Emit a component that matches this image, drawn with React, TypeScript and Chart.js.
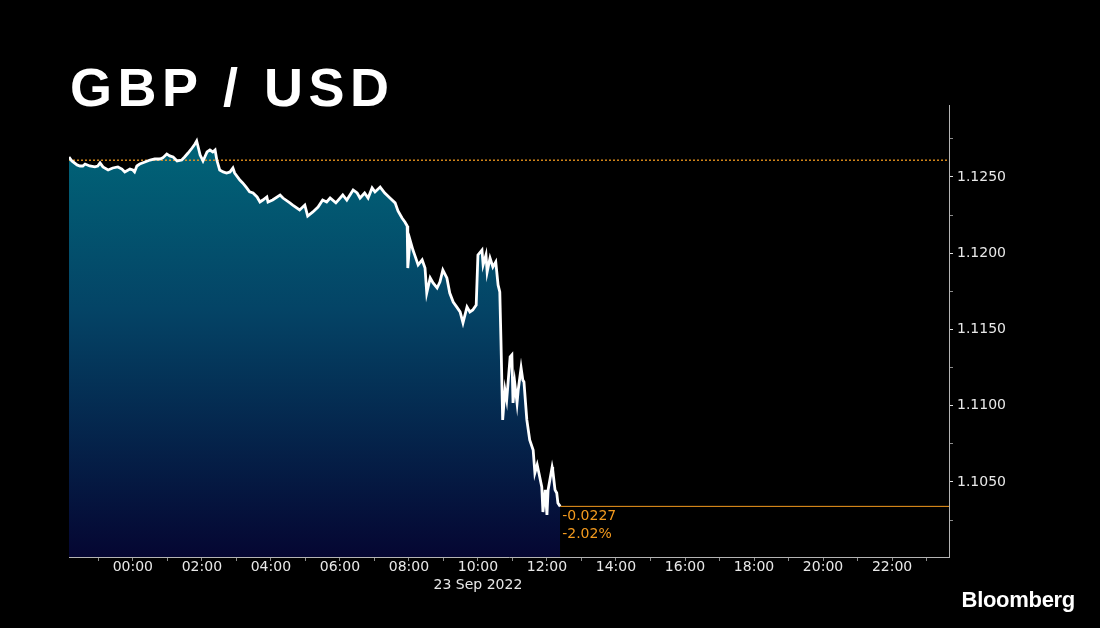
import React, { useEffect, useRef } from 'react';
import { Chart, registerables } from 'chart.js';

Chart.register(...registerables);

// minutes relative to 00:00, 23 Sep 2022 (negative = previous evening)
const times = [
  -111, -106, -97, -92, -87, -83, -75, -66, -61, -57, -52, -43, -35, -26, -19, -14, -5, 0, 3, 7,
  12, 21, 30, 38, 47, 52, 59, 64, 70, 77, 85, 90, 96, 103, 108, 111, 117, 122, 129, 134,
  139, 143, 146, 151, 157, 163, 169, 174, 177, 186, 191, 198, 203, 209, 216, 221, 226, 233, 235, 243,
  256, 261, 273, 278, 290, 299, 304, 313, 322, 330, 337, 343, 353, 365, 372, 383, 390, 395, 403, 409,
  416, 421, 430, 438, 447, 456, 461, 468, 473, 477, 478, 482, 487, 490, 496, 503, 508, 511, 517, 522,
  529, 534, 539, 546, 551, 557, 563, 569, 574, 581, 586, 591, 597, 600, 607, 609, 614, 616, 621, 626,
  631, 635, 638, 640, 643, 647, 650, 656, 659, 661, 664, 668, 670, 675, 678, 680, 685, 690, 696, 699,
  703, 706, 711, 713, 717, 720, 722, 729, 730, 734, 737, 739, 743,
];

const prices = [
  1.12631, 1.12605, 1.12579, 1.12572, 1.12572, 1.12585, 1.12572, 1.12566, 1.12572, 1.12592,
  1.12566, 1.12546, 1.12559, 1.12566, 1.12552, 1.12533, 1.12552, 1.12546, 1.12533, 1.12572,
  1.12585, 1.12598, 1.12611, 1.12618, 1.12618, 1.12625, 1.12651, 1.12638, 1.12631, 1.12605,
  1.12611, 1.12631, 1.12657, 1.12690, 1.12716, 1.12736, 1.12644, 1.12605, 1.12664, 1.12677,
  1.12664, 1.12677, 1.12611, 1.12546, 1.12533, 1.12526, 1.12533, 1.12559, 1.12526, 1.12480,
  1.12461, 1.12428, 1.12402, 1.12395, 1.12369, 1.12336, 1.12349, 1.12369, 1.12336, 1.12349,
  1.12382, 1.12362, 1.12330, 1.12316, 1.12284, 1.12316, 1.12244, 1.12271, 1.12303, 1.12349,
  1.12336, 1.12362, 1.12330, 1.12382, 1.12349, 1.12415, 1.12395, 1.12362, 1.12395, 1.12362,
  1.12428, 1.12402, 1.12434, 1.12395, 1.12362, 1.12330, 1.12277, 1.12231, 1.12205, 1.12179,
  1.11903, 1.12087, 1.12021, 1.11989, 1.11923, 1.11956, 1.11903, 1.11739, 1.11838, 1.11805,
  1.11772, 1.11812, 1.11890, 1.11838, 1.11739, 1.11680, 1.11648, 1.11615, 1.11543, 1.11648,
  1.11615, 1.11628, 1.11661, 1.11989, 1.12021, 1.11923, 1.11989, 1.11877, 1.11969, 1.11910,
  1.11943, 1.11792, 1.11746, 1.11431, 1.10907, 1.11103, 1.11038, 1.11320, 1.11333, 1.11018,
  1.11149, 1.11018, 1.11103, 1.11248, 1.11169, 1.11156, 1.10907, 1.10776, 1.10710, 1.10559,
  1.10612, 1.10559, 1.10467, 1.10303, 1.10448, 1.10284, 1.10448, 1.10598, 1.10579, 1.10448,
  1.10428, 1.10362, 1.10340,
];

const prevClose = 1.1261;

const xMin = -111;
const xMax = 1419;
const yMin = 1.10008;
const yMax = 1.12972;

const xTickMinutes = [
  -60, 0, 60, 120, 180, 240, 300, 360, 420, 480, 540, 600, 660, 720, 780, 840, 900, 960, 1020,
  1080, 1140, 1200, 1260, 1320, 1380,
];
const xTickLabels = [
  '', '00:00', '', '02:00', '', '04:00', '', '06:00', '', '08:00', '', '10:00', '', '12:00', '',
  '14:00', '', '16:00', '', '18:00', '', '20:00', '', '22:00', '',
];
const dateTick = 600;
const dateLabel = '23 Sep 2022';

const yTickValues = [1.1025, 1.105, 1.1075, 1.11, 1.1125, 1.115, 1.1175, 1.12, 1.1225, 1.125, 1.1275];

const titleText = 'GBP / USD';
const brandText = 'Bloomberg';

const ORANGE = '#f39a1e';
const LABEL = '#e8e8e8';
const AXIS = '#b4b4b4';
const FONT = 'DejaVu Sans';

const isMajorY = (v: number) => Math.abs(v * 200 - Math.round(v * 200)) < 1e-6;

export default function App() {
  const canvasRef = useRef<HTMLCanvasElement | null>(null);

  useEffect(() => {
    const canvas = canvasRef.current;
    if (!canvas) return;
    const lastT = times[times.length - 1];
    const lastP = prices[prices.length - 1];
    const change = lastP - prevClose;
    const pct = (change / prevClose) * 100;

    const endLabels = {
      id: 'endLabels',
      afterDatasetsDraw(chart: any) {
        const { ctx, scales } = chart;
        const x = scales.x.getPixelForValue(lastT) + 2;
        const y = scales.y.getPixelForValue(lastP);
        ctx.save();
        ctx.fillStyle = ORANGE;
        ctx.font = `14px "${FONT}"`;
        ctx.textAlign = 'left';
        ctx.textBaseline = 'middle';
        ctx.fillText((change < 0 ? '-' : '+') + Math.abs(change).toFixed(4), x, y + 10);
        ctx.fillText((pct < 0 ? '-' : '+') + Math.abs(pct).toFixed(2) + '%', x, y + 28);
        ctx.restore();
      },
    };

    const chart = new Chart(canvas, {
      type: 'line',
      data: {
        datasets: [
          {
            data: times.map((t, i) => ({ x: t, y: prices[i] })),
            borderColor: '#ffffff',
            borderWidth: 2.8,
            pointRadius: 0,
            tension: 0,
            fill: 'start',
            backgroundColor: (c: any) => {
              const area = c.chart.chartArea;
              if (!area) return '#04405f';
              const g = c.chart.ctx.createLinearGradient(0, area.top, 0, area.bottom);
              g.addColorStop(0, '#006b7c');
              g.addColorStop(0.45, '#044466');
              g.addColorStop(1, '#050632');
              return g;
            },
          },
          {
            data: [
              { x: xMin, y: prevClose },
              { x: xMax, y: prevClose },
            ],
            borderColor: ORANGE,
            borderWidth: 1.3,
            borderDash: [2, 2],
            pointRadius: 0,
            fill: false,
          },
          {
            data: [
              { x: lastT, y: lastP },
              { x: xMax, y: lastP },
            ],
            borderColor: ORANGE,
            borderWidth: 1,
            pointRadius: 0,
            fill: false,
          },
        ],
      },
      options: {
        animation: false,
        responsive: false,
        devicePixelRatio: 1,
        layout: { padding: { left: 69, top: 105, right: 0, bottom: 0 } },
        plugins: {
          legend: { display: false },
          tooltip: { enabled: false },
          filler: { drawTime: 'beforeDatasetsDraw' },
        },
        scales: {
          x: {
            type: 'linear',
            min: xMin,
            max: xMax,
            afterBuildTicks: (s: any) => {
              s.ticks = xTickMinutes.map((v) => ({ value: v }));
            },
            afterFit: (s: any) => {
              s.height = 71;
            },
            grid: { drawOnChartArea: false, drawTicks: true, tickLength: 4, color: '#8c8c8c' },
            border: { display: true, color: AXIS, width: 1 },
            ticks: {
              autoSkip: false,
              maxRotation: 0,
              minRotation: 0,
              padding: -3,
              color: LABEL,
              font: { family: FONT, size: 14, lineHeight: 1.3 },
              callback: (v: any) => {
                const i = xTickMinutes.indexOf(v);
                const lbl = i >= 0 ? xTickLabels[i] : '';
                return v === dateTick ? [lbl, dateLabel] : lbl;
              },
            },
          },
          y: {
            type: 'linear',
            position: 'right',
            min: yMin,
            max: yMax,
            afterBuildTicks: (s: any) => {
              s.ticks = yTickValues.map((v) => ({ value: v }));
            },
            afterFit: (s: any) => {
              s.width = 151;
            },
            grid: {
              drawOnChartArea: false,
              drawTicks: true,
              tickLength: 4,
              color: (c: any) => (c.tick && isMajorY(c.tick.value) ? '#e0e0e0' : '#8c8c8c'),
            },
            border: { display: true, color: AXIS, width: 1 },
            ticks: {
              padding: 4,
              color: LABEL,
              font: { family: FONT, size: 14 },
              callback: (v: any) => (isMajorY(v) ? Number(v).toFixed(4) : ''),
            },
          },
        },
      },
      plugins: [endLabels],
    } as any);

    return () => chart.destroy();
  }, []);

  return (
    <div
      style={{
        position: 'fixed',
        left: 0,
        top: 0,
        width: 1100,
        height: 628,
        background: '#000',
        overflow: 'hidden',
      }}
    >
      <canvas ref={canvasRef} width={1100} height={628} style={{ display: 'block', position: 'absolute', left: 0, top: 0 }} />
      <div
        style={{
          position: 'absolute',
          left: 70,
          top: 60,
          fontFamily: '"Liberation Sans", Arial, sans-serif',
          fontWeight: 700,
          fontSize: 54,
          lineHeight: 1,
          letterSpacing: 5.5,
          color: '#fff',
          whiteSpace: 'pre',
        }}
      >
        {titleText}
      </div>
      <div
        style={{
          position: 'absolute',
          right: 25,
          top: 589,
          fontFamily: '"Liberation Sans", Arial, sans-serif',
          fontWeight: 700,
          fontSize: 22,
          lineHeight: 1,
          letterSpacing: -0.3,
          color: '#fff',
        }}
      >
        {brandText}
      </div>
    </div>
  );
}
